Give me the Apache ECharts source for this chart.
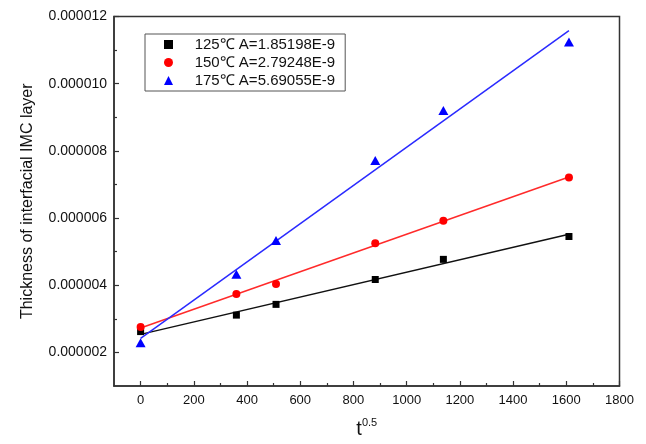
<!DOCTYPE html>
<html>
<head>
<meta charset="utf-8">
<script src="https://cdn.jsdelivr.net/npm/echarts@6/dist/echarts.min.js"></script>
<style>
  html, body { margin: 0; padding: 0; background: #fff; }
  #chart { width: 646px; height: 444px; }
</style>
</head>
<body>
<div id="chart"></div>
<script>
// square root of ageing time, t^0.5
const xValues = [0, 360, 509, 882, 1138, 1610];

// IMC layer thickness (m) at each ageing temperature
const thick125 = [2.62e-6, 3.11e-6, 3.43e-6, 4.17e-6, 4.77e-6, 5.45e-6];
const thick150 = [2.76e-6, 3.74e-6, 4.04e-6, 5.25e-6, 5.92e-6, 7.21e-6];
const thick175 = [2.29e-6, 4.33e-6, 5.33e-6, 7.71e-6, 9.20e-6, 11.24e-6];

// growth-rate constants (slope of the linear fit)
const rateA = [1.85198e-9, 2.79248e-9, 5.69055e-9];
const tempLabels = ['125℃', '150℃', '175℃'];

// axis ticks
const xMajorTicks = [0, 200, 400, 600, 800, 1000, 1200, 1400, 1600, 1800];
const xMinorTicks = [100, 300, 500, 700, 900, 1100, 1300, 1500, 1700];
const yMajorTicks = [2e-6, 4e-6, 6e-6, 8e-6, 10e-6, 12e-6];
const yMinorTicks = [3e-6, 5e-6, 7e-6, 9e-6, 11e-6];

const FONT = 'Arial, "Liberation Sans", Helvetica, sans-serif';
const AXIS_COLOR = '#333';
const colors = ['#000000', '#ff0000', '#0000ff'];
const lineColors = ['#111111', '#ff2a2a', '#2a2aff'];
const symbols = ['rect', 'circle', 'triangle'];
const symbolSizes = [7, 8, [10, 9]];
const allThick = [thick125, thick150, thick175];

// fitted line with the stated slope: intercept from least squares
function fitLine(ys, slope) {
  const n = xValues.length;
  const mx = xValues.reduce((a, b) => a + b, 0) / n;
  const my = ys.reduce((a, b) => a + b, 0) / n;
  const b = my - slope * mx;
  const x0 = xValues[0], x1 = xValues[n - 1];
  return [[x0, b + slope * x0], [x1, b + slope * x1]];
}

const names = tempLabels.map((t, i) => t + ' A=' + rateA[i].toExponential(5).replace('e', 'E'));

const series = [];
allThick.forEach((ys, i) => {
  series.push({
    type: 'line',
    name: 'fit' + i,
    data: fitLine(ys, rateA[i]),
    showSymbol: false,
    symbol: 'none',
    lineStyle: { color: lineColors[i], width: 1.5 },
    z: 2,
    silent: true
  });
});
allThick.forEach((ys, i) => {
  series.push({
    type: 'scatter',
    name: names[i],
    data: xValues.map((x, k) => [x, ys[k]]),
    symbol: symbols[i],
    symbolSize: symbolSizes[i],
    itemStyle: { color: colors[i], opacity: 1 },
    z: 5
  });
});

const tickLabelStyle = { fontFamily: FONT, color: '#111' };

const chart = echarts.init(document.getElementById('chart'), null, { renderer: 'canvas' });
chart.setOption({
  animation: false,
  backgroundColor: '#fff',
  grid: {
    left: 114, right: 26.5, top: 16.5, bottom: 54,
    containLabel: false,
    show: true, borderColor: AXIS_COLOR, borderWidth: 1.5, backgroundColor: 'transparent'
  },
  legend: {
    data: names,
    orient: 'vertical',
    left: 145, top: 34,
    padding: [3, 10, 3, 19],
    itemWidth: 9, itemHeight: 9,
    itemGap: 3,
    borderColor: '#555', borderWidth: 1,
    formatter: n => '    ' + n,
    textStyle: { fontFamily: FONT, fontSize: 15, color: '#111' },
    selectedMode: false
  },
  xAxis: [{
    type: 'value',
    min: -100, max: 1800,
    position: 'bottom',
    name: '{t|t}{s|0.5}',
    nameLocation: 'middle',
    nameGap: 31,
    nameTextStyle: {
      rich: {
        t: { fontFamily: FONT, fontSize: 20, color: '#111', lineHeight: 22, verticalAlign: 'bottom' },
        s: { fontFamily: FONT, fontSize: 11, color: '#111', lineHeight: 22, verticalAlign: 'top' }
      }
    },
    axisLine: { show: true, onZero: false, lineStyle: { color: AXIS_COLOR, width: 1.5 } },
    axisTick: { show: true, inside: true, length: 5, customValues: xMajorTicks, lineStyle: { color: AXIS_COLOR, width: 1.2 } },
    axisLabel: { show: true, customValues: xMajorTicks, margin: 8, fontSize: 13, formatter: v => String(v), ...tickLabelStyle },
    splitLine: { show: false }
  }, {
    type: 'value',
    min: -100, max: 1800,
    position: 'bottom',
    axisLine: { show: false, onZero: false },
    axisTick: { show: true, inside: true, length: 3, customValues: xMinorTicks, lineStyle: { color: AXIS_COLOR, width: 1.2 } },
    axisLabel: { show: false },
    splitLine: { show: false }
  }],
  yAxis: [{
    type: 'value',
    min: 1e-6, max: 12e-6,
    position: 'left',
    name: 'Thickness of interfacial IMC layer',
    nameLocation: 'middle',
    nameGap: 78,
    nameTextStyle: { fontFamily: FONT, fontSize: 16, color: '#111' },
    axisLine: { show: true, onZero: false, lineStyle: { color: AXIS_COLOR, width: 1.5 } },
    axisTick: { show: true, inside: true, length: 5, customValues: yMajorTicks, lineStyle: { color: AXIS_COLOR, width: 1.2 } },
    axisLabel: { show: true, customValues: yMajorTicks, margin: 7, fontSize: 14, formatter: v => v.toFixed(6), ...tickLabelStyle },
    splitLine: { show: false }
  }, {
    type: 'value',
    min: 1e-6, max: 12e-6,
    position: 'left',
    axisLine: { show: false, onZero: false },
    axisTick: { show: true, inside: true, length: 3, customValues: yMinorTicks, lineStyle: { color: AXIS_COLOR, width: 1.2 } },
    axisLabel: { show: false },
    splitLine: { show: false }
  }],
  series: series
});
</script>
</body>
</html>
